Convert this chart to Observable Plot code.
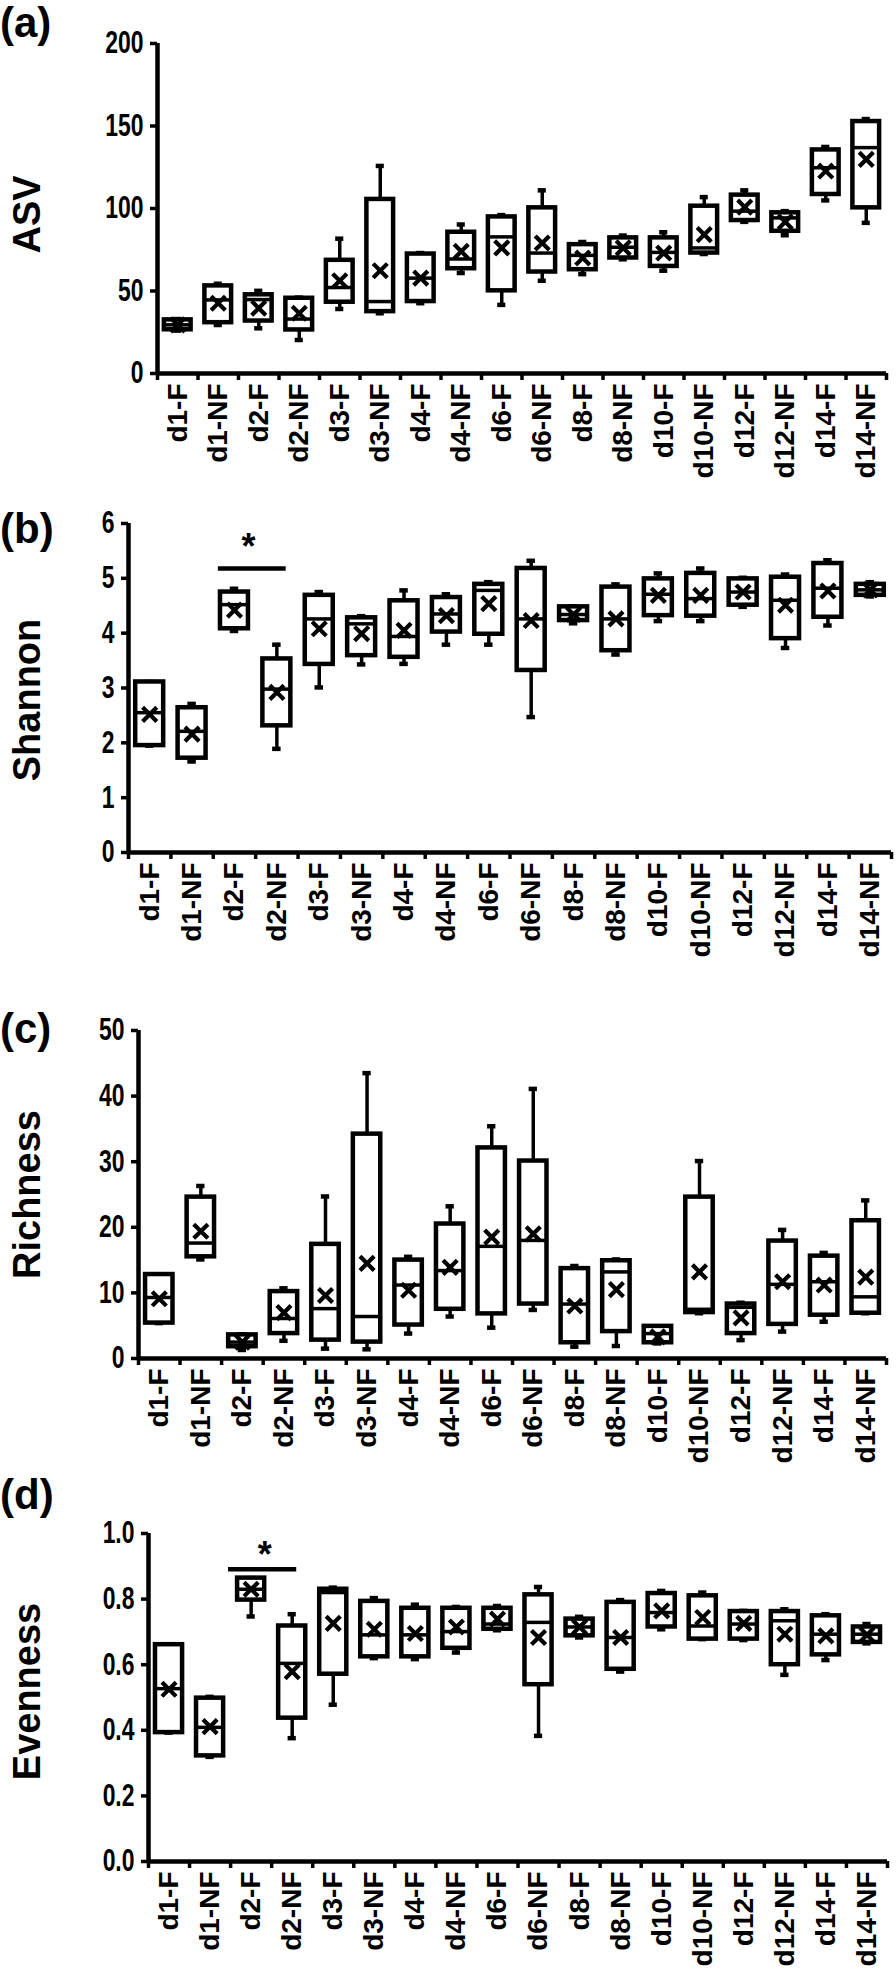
<!DOCTYPE html>
<html><head><meta charset="utf-8">
<script src="https://cdn.jsdelivr.net/npm/d3@7"></script>
<script src="https://cdn.jsdelivr.net/npm/@observablehq/plot@0.6"></script>
<style>
html,body{margin:0;padding:0;background:#fff;overflow:hidden;}
#root{position:relative;width:896px;height:1972px;font-family:"Liberation Sans",Arial,sans-serif;}
.panel{position:absolute;left:0;}
.panel svg{background:transparent !important;}
.plabel{position:absolute;left:0;font-size:42px;font-weight:bold;line-height:1.1;color:#000;}
</style></head><body><div id="root"></div>
<script>
// ---------- categories ----------
const cats = ["d1-F","d1-NF","d2-F","d2-NF","d3-F","d3-NF","d4-F","d4-NF","d6-F","d6-NF","d8-F","d8-NF","d10-F","d10-NF","d12-F","d12-NF","d14-F","d14-NF"];

// ---------- (a) ASV ----------
const asvMin  = [26, 29.4, 27.4, 20.3, 39.1, 36.5, 42.6, 60.9, 41.6, 56.2, 60.2, 69.2, 62.3, 72.4, 91.9, 83.8, 104.9, 91.3];
const asvQ1   = [26.5, 30.8, 31.8, 26.4, 43.2, 37.5, 43.6, 63.5, 50.1, 61.5, 62.9, 70.0, 64.9, 73.0, 92.7, 86.2, 108.5, 100.4];
const asvMed  = [29.5, 44.6, 44.8, 33.0, 52.1, 43.6, 57.8, 69.4, 82.8, 73.0, 71.6, 76.5, 73.4, 76.1, 98.4, 94.3, 124.7, 136.9];
const asvQ3   = [32.5, 53.1, 47.7, 45.6, 68.6, 105.5, 72.4, 85.6, 94.9, 100.4, 78.1, 82.2, 82.2, 101.4, 108.1, 97.4, 135.5, 152.7];
const asvMax  = [33, 54.4, 50.1, 46.0, 81.7, 125.8, 73.0, 90.3, 96.0, 111.0, 79.7, 83.6, 85.6, 106.9, 111.0, 98.4, 137.3, 154.2];
const asvMean = [29.5, 42.6, 39.6, 36.5, 56.2, 62.3, 57.8, 74.0, 76.1, 79.1, 70.0, 76.1, 73.0, 84.2, 100.8, 91.9, 122.7, 129.8];
const asvTicks = [0, 50, 100, 150, 200];

// ---------- (b) Shannon ----------
const shMin  = [1.95, 1.66, 4.04, 1.89, 3.01, 3.43, 3.44, 3.79, 3.79, 2.47, 4.18, 3.61, 4.22, 4.22, 4.48, 3.73, 4.14, 4.67];
const shQ1   = [1.95, 1.72, 4.08, 2.31, 3.43, 3.59, 3.56, 4.02, 3.98, 3.32, 4.23, 3.68, 4.32, 4.31, 4.51, 3.90, 4.29, 4.69];
const shMed  = [2.55, 2.21, 4.52, 2.98, 4.26, 4.17, 3.94, 4.35, 4.78, 4.26, 4.34, 4.26, 4.71, 4.63, 4.75, 4.60, 4.82, 4.79];
const shQ3   = [3.11, 2.64, 4.75, 3.53, 4.69, 4.28, 4.59, 4.65, 4.89, 5.18, 4.48, 4.84, 4.99, 5.09, 4.99, 5.02, 5.27, 4.89];
const shMax  = [3.11, 2.71, 4.81, 3.79, 4.75, 4.31, 4.78, 4.71, 4.93, 5.32, 4.49, 4.89, 5.09, 5.18, 5.01, 5.07, 5.33, 4.93];
const shMean = [2.52, 2.16, 4.42, 2.92, 4.08, 3.99, 4.05, 4.32, 4.54, 4.23, 4.34, 4.26, 4.69, 4.69, 4.75, 4.51, 4.77, 4.79];
const shTicks = [0, 1, 2, 3, 4, 5, 6];

// ---------- (c) Richness ----------
const riMin  = [5.4, 15.1, 1.3, 2.7, 1.5, 1.4, 3.8, 6.4, 4.7, 7.4, 1.8, 1.9, 2.3, 6.9, 2.8, 4.1, 5.6, 6.9];
const riQ1   = [5.4, 15.5, 1.8, 3.8, 2.8, 2.5, 5.1, 7.5, 6.8, 8.3, 2.4, 4.1, 2.4, 7.0, 3.8, 5.2, 6.6, 6.9];
const riMed  = [9.3, 17.6, 2.5, 6.1, 7.6, 6.4, 11.2, 13.4, 17.1, 18.0, 8.3, 13.2, 3.8, 7.5, 7.8, 11.3, 11.7, 9.4];
const riQ3   = [12.8, 24.6, 3.6, 10.2, 17.4, 34.2, 15.0, 20.5, 32.1, 30.1, 13.7, 14.9, 4.9, 24.6, 8.3, 17.9, 15.6, 21.0];
const riMax  = [12.8, 26.3, 3.7, 10.7, 24.7, 43.5, 15.5, 23.2, 35.4, 41.1, 14.1, 15.1, 4.9, 30.1, 8.5, 19.6, 16.1, 24.1];
const riMean = [9.1, 19.4, 2.5, 7.0, 9.6, 14.5, 10.4, 13.9, 18.5, 19.0, 8.0, 10.5, 3.3, 13.2, 6.2, 11.7, 11.2, 12.4];
const riTicks = [0, 10, 20, 30, 40, 50];

// ---------- (d) Evenness ----------
const evMin  = [0.393, 0.319, 0.747, 0.376, 0.478, 0.620, 0.617, 0.637, 0.705, 0.383, 0.683, 0.579, 0.708, 0.678, 0.675, 0.569, 0.614, 0.665];
const evQ1   = [0.393, 0.322, 0.797, 0.437, 0.571, 0.624, 0.624, 0.650, 0.708, 0.539, 0.688, 0.586, 0.715, 0.678, 0.678, 0.600, 0.630, 0.668];
const evMed  = [0.527, 0.409, 0.830, 0.604, 0.820, 0.691, 0.691, 0.701, 0.724, 0.729, 0.715, 0.683, 0.759, 0.718, 0.724, 0.734, 0.693, 0.693];
const evQ3   = [0.661, 0.498, 0.864, 0.718, 0.830, 0.793, 0.772, 0.772, 0.772, 0.813, 0.739, 0.790, 0.817, 0.810, 0.762, 0.762, 0.749, 0.715];
const evMax  = [0.661, 0.502, 0.864, 0.754, 0.835, 0.803, 0.783, 0.776, 0.779, 0.837, 0.746, 0.797, 0.825, 0.820, 0.764, 0.769, 0.754, 0.724];
const evMean = [0.525, 0.411, 0.830, 0.579, 0.726, 0.708, 0.695, 0.715, 0.739, 0.683, 0.715, 0.683, 0.764, 0.744, 0.726, 0.693, 0.688, 0.691];
const evTicks = [0, 0.2, 0.4, 0.6, 0.8, 1.0];

// ---------- significance annotations ----------
const sigShannon  = [{a: "d2-F", b: "d2-NF", bar: 5.18, star: 5.75, label: "*"}];
const sigEvenness = [{a: "d2-F", b: "d2-NF", bar: 0.891, star: 0.962, label: "*"}];

const N = cats.length;
const HW = 0.33, CAP = 0.1;

function condense(svg, sel, k) {
  svg.querySelectorAll(sel).forEach(t => {
    let tr = t.getAttribute("transform");
    if (!tr) {
      const x = t.getAttribute("x") || 0, y = t.getAttribute("y") || 0;
      t.removeAttribute("x"); t.removeAttribute("y");
      tr = `translate(${x},${y})`;
    }
    t.setAttribute("transform", tr + ` scale(${k},1)`);
  });
}

function panel(o) {
  const rows = cats.map((c, i) => ({c, i, min: o.min[i], q1: o.q1[i], med: o.med[i], q3: o.q3[i], max: o.max[i], mean: o.mean[i]}));
  const cx = d => d.i + 0.5;
  const yMax = o.ticks[o.ticks.length - 1];
  const marks = [
    Plot.ruleX(rows, {x: cx, y1: "min", y2: "q1", strokeWidth: 3.5}),
    Plot.ruleX(rows, {x: cx, y1: "q3", y2: "max", strokeWidth: 3.5}),
    Plot.ruleY(rows, {y: "min", x1: d => cx(d) - CAP, x2: d => cx(d) + CAP, strokeWidth: 4.5}),
    Plot.ruleY(rows, {y: "max", x1: d => cx(d) - CAP, x2: d => cx(d) + CAP, strokeWidth: 4.5}),
    Plot.rect(rows, {x1: d => cx(d) - HW, x2: d => cx(d) + HW, y1: "q1", y2: "q3", fill: "white", stroke: "black", strokeWidth: 4.5}),
    Plot.ruleY(rows, {y: "med", x1: d => cx(d) - HW, x2: d => cx(d) + HW, strokeWidth: 3.5}),
    Plot.dot(rows, {x: cx, y: "mean", symbol: "times", r: 6.5, stroke: "black", strokeWidth: 4.2}),
    Plot.ruleX([0], {strokeWidth: 4.5}),
    Plot.ruleY([0], {strokeWidth: 4.5}),
    Plot.axisY({ticks: o.ticks, tickSize: 7, tickPadding: 7, tickFormat: o.fmt, strokeWidth: 3.5, fontSize: 31, fontWeight: "bold", label: null}),
    Plot.axisX({ticks: d3.range(N + 1), tickSize: 7, tickFormat: () => "", strokeWidth: 3.5, label: null}),
    Plot.axisX({ticks: d3.range(N).map(i => i + 0.5), tickFormat: v => cats[Math.floor(v)], tickSize: 0, tickPadding: 10, tickRotate: -90, fontSize: 28, fontWeight: "bold", label: null}),
    Plot.text([o.title], {x: 0, y: yMax / 2, rotate: -90, textAnchor: "middle", lineAnchor: "middle", dx: -(o.ml - 27), dy: o.titleDy, fontSize: 38, fontWeight: "bold"})
  ];
  if (o.sig) {
    const idx = c => cats.indexOf(c);
    marks.push(Plot.ruleY(o.sig, {y: "bar", x1: d => idx(d.a) + o.barL, x2: d => idx(d.b) + o.barR, strokeWidth: 4.5}));
    marks.push(Plot.text(o.sig, {x: d => idx(d.a) + 0.83, y: "star", text: "label", fontSize: 36, fontWeight: "bold", dy: 10}));
  }
  const svg = Plot.plot({
    width: 896, height: o.height,
    marginTop: o.mt, marginBottom: o.mb, marginLeft: o.ml, marginRight: o.mr,
    x: {domain: [0, N]},
    y: {domain: [0, yMax]},
    style: {fontFamily: '"Liberation Sans", Arial, sans-serif', color: "black", background: "transparent", overflow: "visible"},
    marks
  });
  condense(svg, 'g[aria-label="y-axis tick label"] text', 0.74);
  const div = document.createElement("div");
  div.className = "panel";
  div.style.top = o.top + "px";
  div.appendChild(svg);
  document.getElementById("root").appendChild(div);
  const lab = document.createElement("div");
  lab.className = "plabel";
  lab.style.top = o.labelTop + "px";
  lab.textContent = o.letter;
  document.getElementById("root").appendChild(lab);
}

panel({letter: "(a)", title: "ASV", min: asvMin, q1: asvQ1, med: asvMed, q3: asvQ3, max: asvMax, mean: asvMean,
  ticks: asvTicks, fmt: d3.format("d"), top: 0, height: 500, mt: 43, mb: 127, ml: 157, mr: 10, titleDy: 6, labelTop: 0});
panel({letter: "(b)", title: "Shannon", min: shMin, q1: shQ1, med: shMed, q3: shQ3, max: shMax, mean: shMean,
  ticks: shTicks, fmt: d3.format("d"), top: 490, height: 490, mt: 33, mb: 128, ml: 128, mr: 5, titleDy: 12, labelTop: 506,
  sig: sigShannon, barL: 0.12, barR: 0.72});
panel({letter: "(c)", title: "Richness", min: riMin, q1: riQ1, med: riMed, q3: riQ3, max: riMax, mean: riMean,
  ticks: riTicks, fmt: d3.format("d"), top: 985, height: 490, mt: 45, mb: 117, ml: 138, mr: 10, titleDy: 0, labelTop: 1006});
panel({letter: "(d)", title: "Evenness", min: evMin, q1: evQ1, med: evMed, q3: evQ3, max: evMax, mean: evMean,
  ticks: evTicks, fmt: d3.format(".1f"), top: 1475, height: 497, mt: 58, mb: 111, ml: 148, mr: 9, titleDy: -6, labelTop: 1472,
  sig: sigEvenness, barL: -0.05, barR: 0.61});
</script></body></html>
